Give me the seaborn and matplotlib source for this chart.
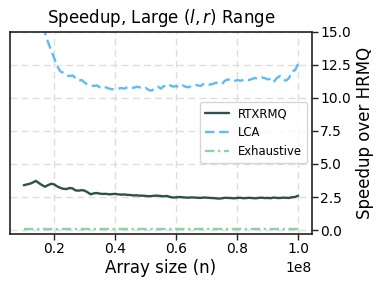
import numpy as np
import pandas as pd
import matplotlib
matplotlib.use("Agg")
import matplotlib.pyplot as plt
import seaborn as sns

# Array sizes (x 1e8)
sizes = [0.10, 0.11, 0.12, 0.13, 0.14, 0.15, 0.16, 0.17, 0.18, 0.19,
         0.20, 0.21, 0.22, 0.23, 0.24, 0.25, 0.26, 0.27, 0.28, 0.29,
         0.30, 0.31, 0.32, 0.33, 0.34, 0.35, 0.36, 0.37, 0.38, 0.39,
         0.40, 0.41, 0.42, 0.43, 0.44, 0.45, 0.46, 0.47, 0.48, 0.49,
         0.50, 0.51, 0.52, 0.53, 0.54, 0.55, 0.56, 0.57, 0.58, 0.59,
         0.60, 0.61, 0.62, 0.63, 0.64, 0.65, 0.66, 0.67, 0.68, 0.69,
         0.70, 0.71, 0.72, 0.73, 0.74, 0.75, 0.76, 0.77, 0.78, 0.79,
         0.80, 0.81, 0.82, 0.83, 0.84, 0.85, 0.86, 0.87, 0.88, 0.89,
         0.90, 0.91, 0.92, 0.93, 0.94, 0.95, 0.96, 0.97, 0.98, 0.99,
         1.00]

rtxrmq = [3.39, 3.45, 3.50, 3.60, 3.72, 3.55, 3.40, 3.28, 3.40, 3.50,
          3.45, 3.30, 3.19, 3.12, 3.10, 3.18, 3.15, 3.00, 2.98, 3.02,
          2.98, 2.85, 2.70, 2.78, 2.80, 2.75, 2.73, 2.74, 2.70, 2.72,
          2.74, 2.70, 2.68, 2.69, 2.66, 2.65, 2.62, 2.63, 2.60, 2.60,
          2.58, 2.56, 2.57, 2.60, 2.60, 2.57, 2.55, 2.58, 2.50, 2.46,
          2.47, 2.50, 2.48, 2.46, 2.45, 2.47, 2.46, 2.44, 2.43, 2.46,
          2.45, 2.43, 2.42, 2.40, 2.38, 2.40, 2.44, 2.43, 2.42, 2.40,
          2.43, 2.44, 2.41, 2.42, 2.44, 2.42, 2.40, 2.43, 2.45, 2.42,
          2.43, 2.41, 2.46, 2.43, 2.42, 2.45, 2.44, 2.43, 2.48, 2.50,
          2.60]

lca = [21.0, 20.0, 19.0, 18.2, 17.3, 16.4, 15.6, 14.9, 14.2, 13.6,
       13.0, 12.4, 12.0, 11.9, 11.7, 11.65, 11.7, 11.5, 11.3, 11.35,
       11.15, 11.0, 10.95, 10.9, 10.95, 10.8, 10.7, 10.8, 10.7, 10.65,
       10.68, 10.7, 10.75, 10.7, 10.8, 10.85, 10.75, 10.85, 10.8, 10.7,
       10.75, 10.6, 10.55, 10.75, 10.85, 10.7, 10.9, 10.8, 10.95, 10.85,
       10.9, 10.8, 10.95, 10.85, 10.8, 10.9, 11.0, 10.95, 10.9, 11.05,
       11.1, 11.0, 11.05, 11.15, 11.1, 11.05, 11.3, 11.4, 11.3, 11.25,
       11.35, 11.3, 11.35, 11.4, 11.35, 11.45, 11.5, 11.45, 11.55, 11.5,
       11.4, 11.45, 11.2, 11.5, 11.65, 11.4, 11.3, 11.5, 12.0, 12.1,
       12.6]

exhaustive = [0.08] * len(sizes)

series_names = ["RTXRMQ", "LCA", "Exhaustive"]
series_colors = {"RTXRMQ": "#2f4f4f", "LCA": "#5cbcf8", "Exhaustive": "#8dd3a2"}
series_dashes = {"RTXRMQ": "", "LCA": (4, 2), "Exhaustive": (4, 1.5, 1, 1.5)}

rows = []
for name, vals in zip(series_names, [rtxrmq, lca, exhaustive]):
    for s, v in zip(sizes, vals):
        rows.append({"n": s * 1e8, "speedup": v, "method": name})
df = pd.DataFrame(rows)

sns.set_theme(style="whitegrid")
plt.rcParams["font.family"] = ["DejaVu Sans"]
plt.rcParams["text.color"] = "black"
plt.rcParams["axes.labelcolor"] = "black"
plt.rcParams["xtick.color"] = "black"
plt.rcParams["ytick.color"] = "black"

fig = plt.figure(figsize=(3.85, 2.88), dpi=100)
ax = fig.add_axes([0.026, 0.1875, 0.784, 0.702])

sns.lineplot(data=df, x="n", y="speedup", hue="method", style="method",
             hue_order=series_names, style_order=series_names,
             palette=series_colors, dashes=series_dashes, linewidth=1.7,
             ax=ax)

ax.set_ylim(-0.3, 15.0)
ax.set_yticks([0, 2.5, 5, 7.5, 10, 12.5, 15])
ax.set_yticklabels(["0.0", "2.5", "5.0", "7.5", "10.0", "12.5", "15.0"])
ax.yaxis.tick_right()
ax.yaxis.set_label_position("right")
ax.set_xticks([0.2e8, 0.4e8, 0.6e8, 0.8e8, 1.0e8])

ax.grid(True, linestyle=(0, (5, 3)), color="#dddddd", linewidth=1)
for sp in ax.spines.values():
    sp.set_color("#222222")
    sp.set_linewidth(1.2)
ax.tick_params(axis="both", which="both", length=4, width=1, color="#222222",
               labelsize=10, pad=2)
ax.tick_params(axis="y", right=True, left=False)
ax.tick_params(axis="x", bottom=True)

ax.set_title("Speedup, Large $(l, r)$ Range", fontsize=12, pad=6)
ax.set_xlabel("Array size (n)", fontsize=12, labelpad=2)
ax.set_ylabel("Speedup over HRMQ", fontsize=12, labelpad=4)
ax.xaxis.get_offset_text().set_fontsize(10)

leg = ax.legend(loc="center right", fontsize=8.4, frameon=True,
                handlelength=2.0, borderpad=0.45, labelspacing=0.5,
                handletextpad=0.8, borderaxespad=0.4)
leg.get_frame().set_edgecolor("#cccccc")

fig.savefig("out.png", dpi=100)
